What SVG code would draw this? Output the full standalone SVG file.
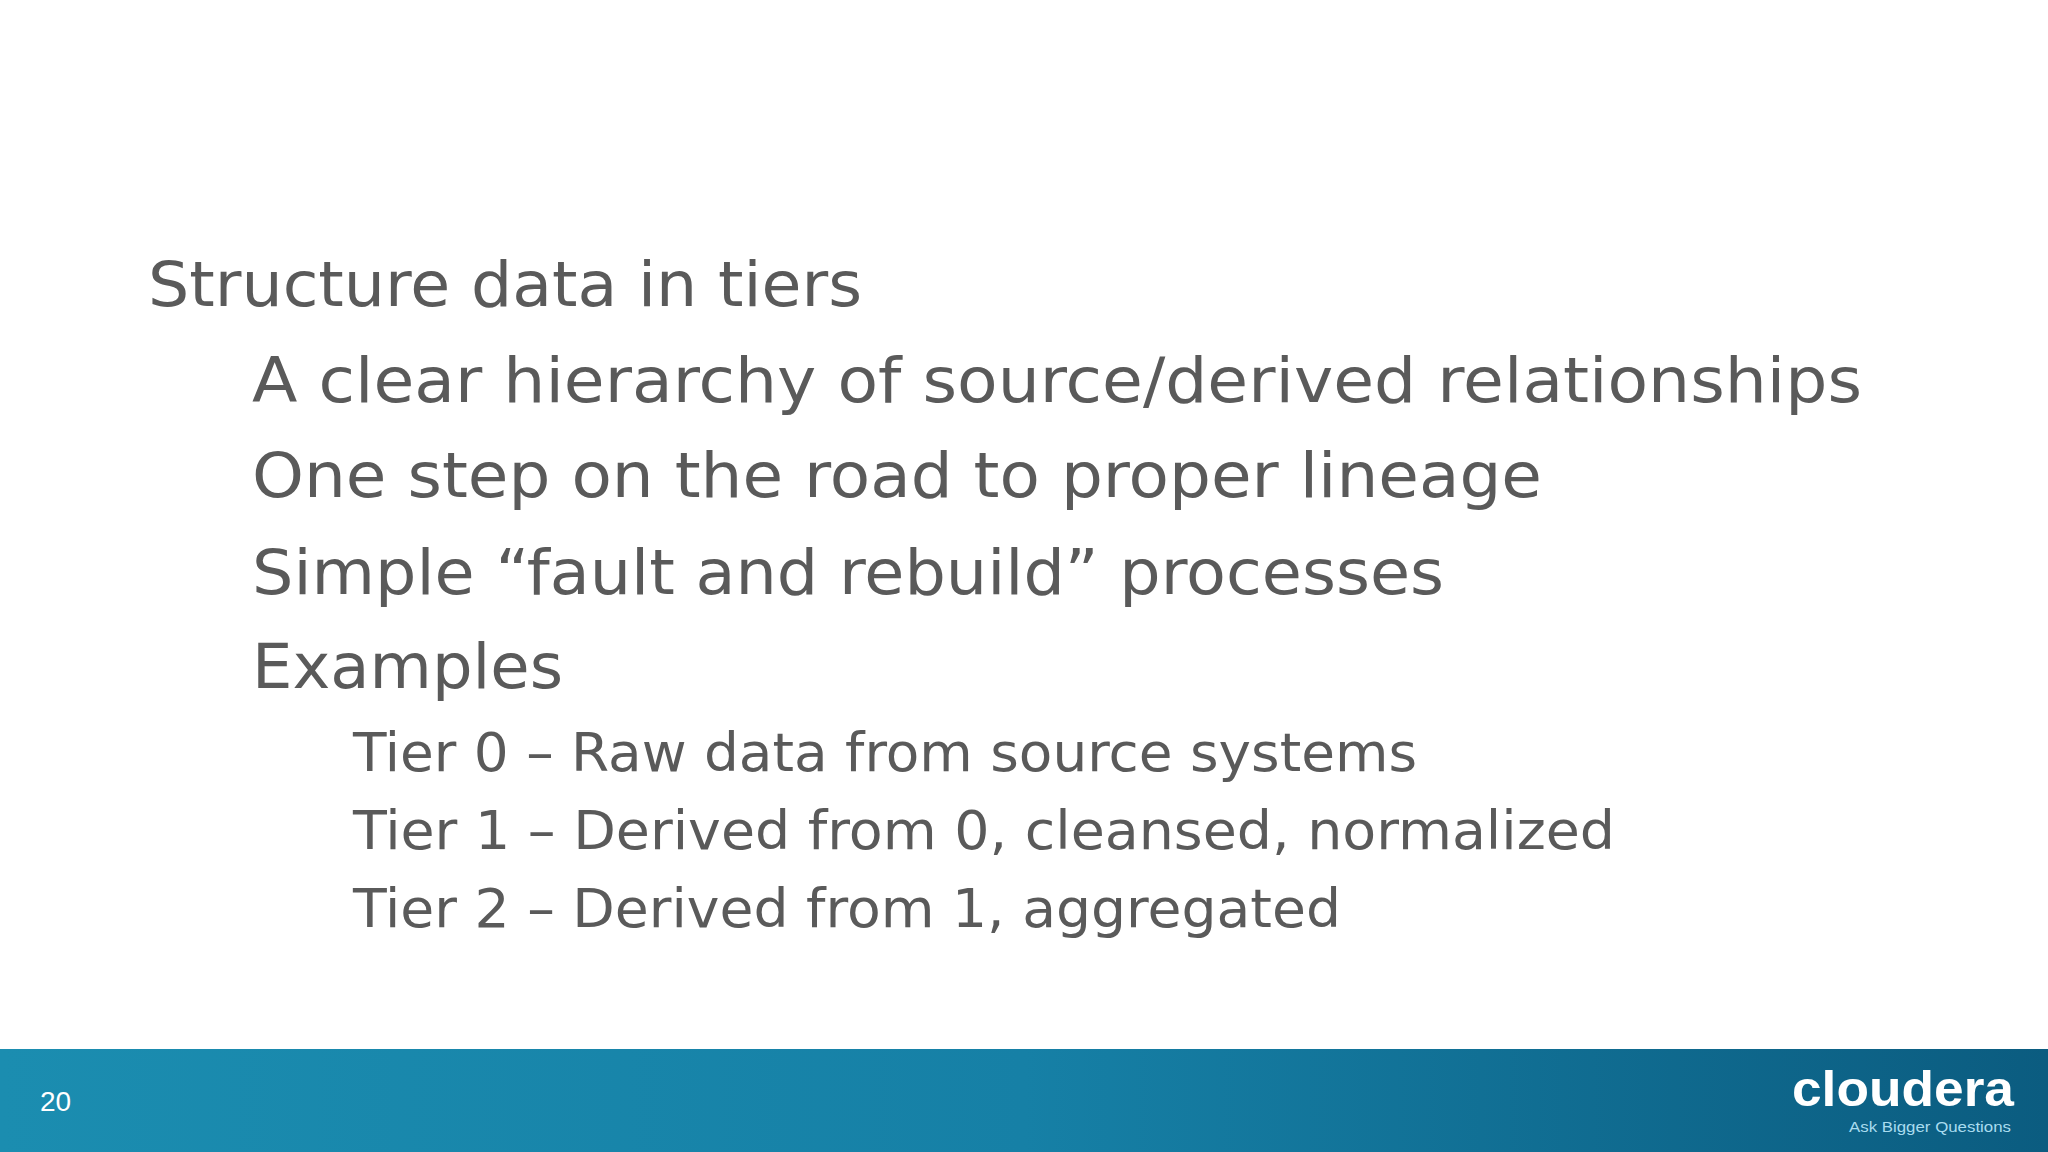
<svg xmlns="http://www.w3.org/2000/svg" width="2048" height="1152" viewBox="0 0 2048 1152">
<style>
.t{font-family:"DejaVu Sans","Verdana",sans-serif;fill:#5a5a5a}
.a{font-size:62px}
.b{font-size:54px}
</style>
<defs>
<linearGradient id="g" x1="0" y1="0" x2="1" y2="0">
<stop offset="0" stop-color="#1b8db0"/>
<stop offset="0.5" stop-color="#1680a6"/>
<stop offset="1" stop-color="#0b5c80"/>
</linearGradient>
</defs>
<rect width="2048" height="1152" fill="#ffffff"/>
<g id="body">
<text class="t a" x="148" y="306" textLength="714" lengthAdjust="spacingAndGlyphs">Structure data in tiers</text>
<text class="t a" x="252" y="402" textLength="1610" lengthAdjust="spacingAndGlyphs">A clear hierarchy of source/derived relationships</text>
<text class="t a" x="252" y="497" textLength="1290" lengthAdjust="spacingAndGlyphs">One step on the road to proper lineage</text>
<text class="t a" x="252" y="594" textLength="1192" lengthAdjust="spacingAndGlyphs">Simple “fault and rebuild” processes</text>
<text class="t a" x="252" y="688" textLength="311" lengthAdjust="spacingAndGlyphs">Examples</text>
<text class="t b" x="353" y="771" textLength="1064" lengthAdjust="spacingAndGlyphs">Tier 0 – Raw data from source systems</text>
<text class="t b" x="353" y="849" textLength="1262" lengthAdjust="spacingAndGlyphs">Tier 1 – Derived from 0, cleansed, normalized</text>
<text class="t b" x="353" y="927" textLength="988" lengthAdjust="spacingAndGlyphs">Tier 2 – Derived from 1, aggregated</text>
</g>
<g id="footer">
<rect x="0" y="1049" width="2048" height="103" fill="url(#g)"/>
<text x="40" y="1111" font-family="Liberation Sans, sans-serif" font-size="28" fill="#ffffff">20</text>
<text x="1792" y="1106" font-family="Liberation Sans, sans-serif" font-weight="bold" font-size="50" fill="#ffffff" textLength="222" lengthAdjust="spacingAndGlyphs">cloudera</text>
<text x="1849" y="1132" font-family="Liberation Sans, sans-serif" font-size="15" fill="#a9dcef" textLength="162" lengthAdjust="spacingAndGlyphs">Ask Bigger Questions</text>
</g>
</svg>
